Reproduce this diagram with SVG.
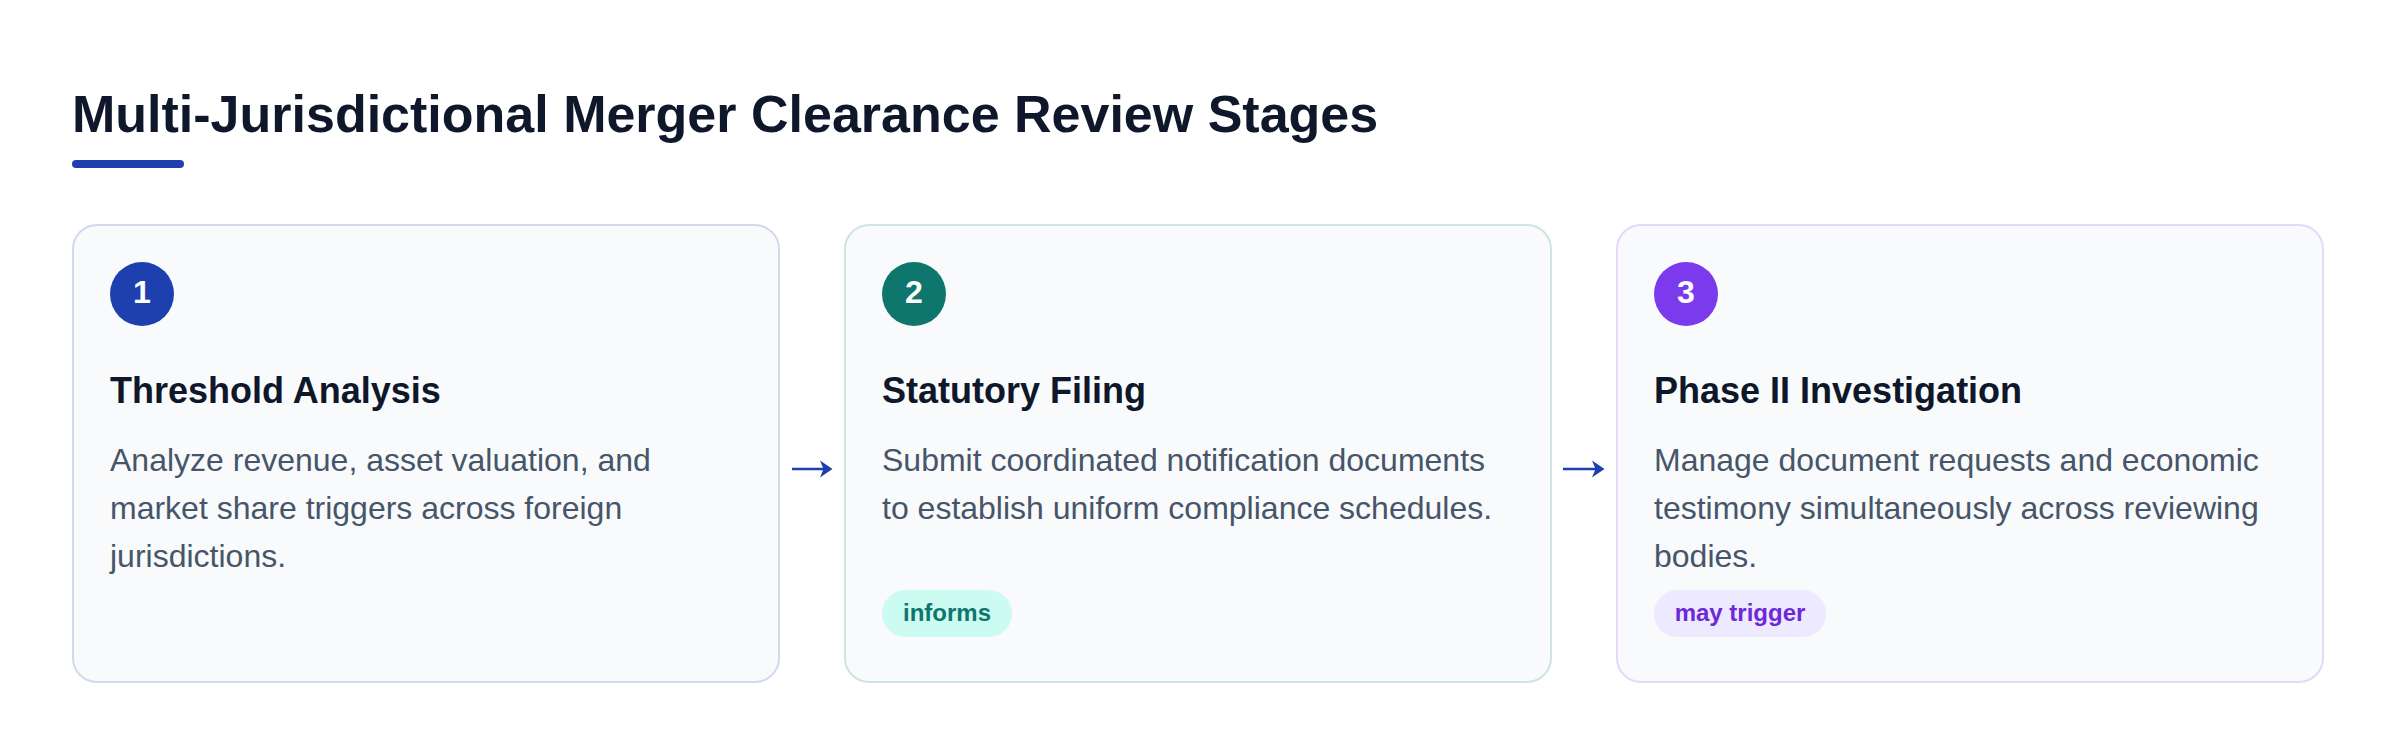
<svg xmlns="http://www.w3.org/2000/svg" width="2400" height="756" viewBox="0 0 2400 756">
  <style>
    .title { font-family: "Liberation Sans", Arial, sans-serif; font-weight: bold; font-size: 52px; fill: #0f172a; }
    .card { fill: #f8fafc; stroke-width: 2; }
    .num { font-family: "Liberation Sans", Arial, sans-serif; font-weight: bold; font-size: 32px; fill: #ffffff; text-anchor: middle; }
    .head { font-family: "Liberation Sans", Arial, sans-serif; font-weight: bold; font-size: 36px; fill: #0f172a; }
    .body { font-family: "Liberation Sans", Arial, sans-serif; font-size: 32px; fill: #475569; }
    .tag { font-family: "Liberation Sans", Arial, sans-serif; font-weight: bold; font-size: 24px; text-anchor: middle; }
    .conn line { stroke: #1e40af; stroke-width: 2.4; }
    .conn path { fill: #1e40af; }
  </style>
  <rect width="2400" height="756" fill="#ffffff"/>

  <g id="header">
    <text class="title" x="72" y="132">Multi-Jurisdictional Merger Clearance Review Stages</text>
    <rect x="72" y="160" width="112" height="8" rx="4" fill="#1e40af"/>
  </g>

  <g id="stage1">
    <rect class="card" x="73" y="225" width="706" height="457" rx="24" stroke="#d2d9ef"/>
    <circle cx="142" cy="294" r="32" fill="#1e40af"/>
    <text class="num" x="142" y="303">1</text>
    <text class="head" x="110" y="403">Threshold Analysis</text>
    <text class="body" x="110" y="471">Analyze revenue, asset valuation, and</text>
    <text class="body" x="110" y="519">market share triggers across foreign</text>
    <text class="body" x="110" y="567">jurisdictions.</text>
  </g>

  <g id="stage2">
    <rect class="card" x="845" y="225" width="706" height="457" rx="24" stroke="#cfe4e2"/>
    <circle cx="914" cy="294" r="32" fill="#0f766e"/>
    <text class="num" x="914" y="303">2</text>
    <text class="head" x="882" y="403">Statutory Filing</text>
    <text class="body" x="882" y="471">Submit coordinated notification documents</text>
    <text class="body" x="882" y="519">to establish uniform compliance schedules.</text>
    <rect x="882" y="590" width="130" height="47" rx="23.5" fill="#ccfbf1"/>
    <text class="tag" x="947" y="621" fill="#0f766e">informs</text>
  </g>

  <g id="stage3">
    <rect class="card" x="1617" y="225" width="706" height="457" rx="24" stroke="#e5d8fb"/>
    <circle cx="1686" cy="294" r="32" fill="#7c3aed"/>
    <text class="num" x="1686" y="303">3</text>
    <text class="head" x="1654" y="403">Phase II Investigation</text>
    <text class="body" x="1654" y="471">Manage document requests and economic</text>
    <text class="body" x="1654" y="519">testimony simultaneously across reviewing</text>
    <text class="body" x="1654" y="567">bodies.</text>
    <rect x="1654" y="590" width="172" height="47" rx="23.5" fill="#ede9fe"/>
    <text class="tag" x="1740" y="621" fill="#6d28d9">may trigger</text>
  </g>

  <g id="connectors" class="conn">
    <line x1="792" y1="469" x2="829" y2="469"/>
    <path d="M820,460.5 L832.5,469 L820,477.5 L823.5,469 Z"/>
    <line x1="1563" y1="469" x2="1601" y2="469"/>
    <path d="M1592,460.5 L1604.5,469 L1592,477.5 L1595.5,469 Z"/>
  </g>
</svg>
